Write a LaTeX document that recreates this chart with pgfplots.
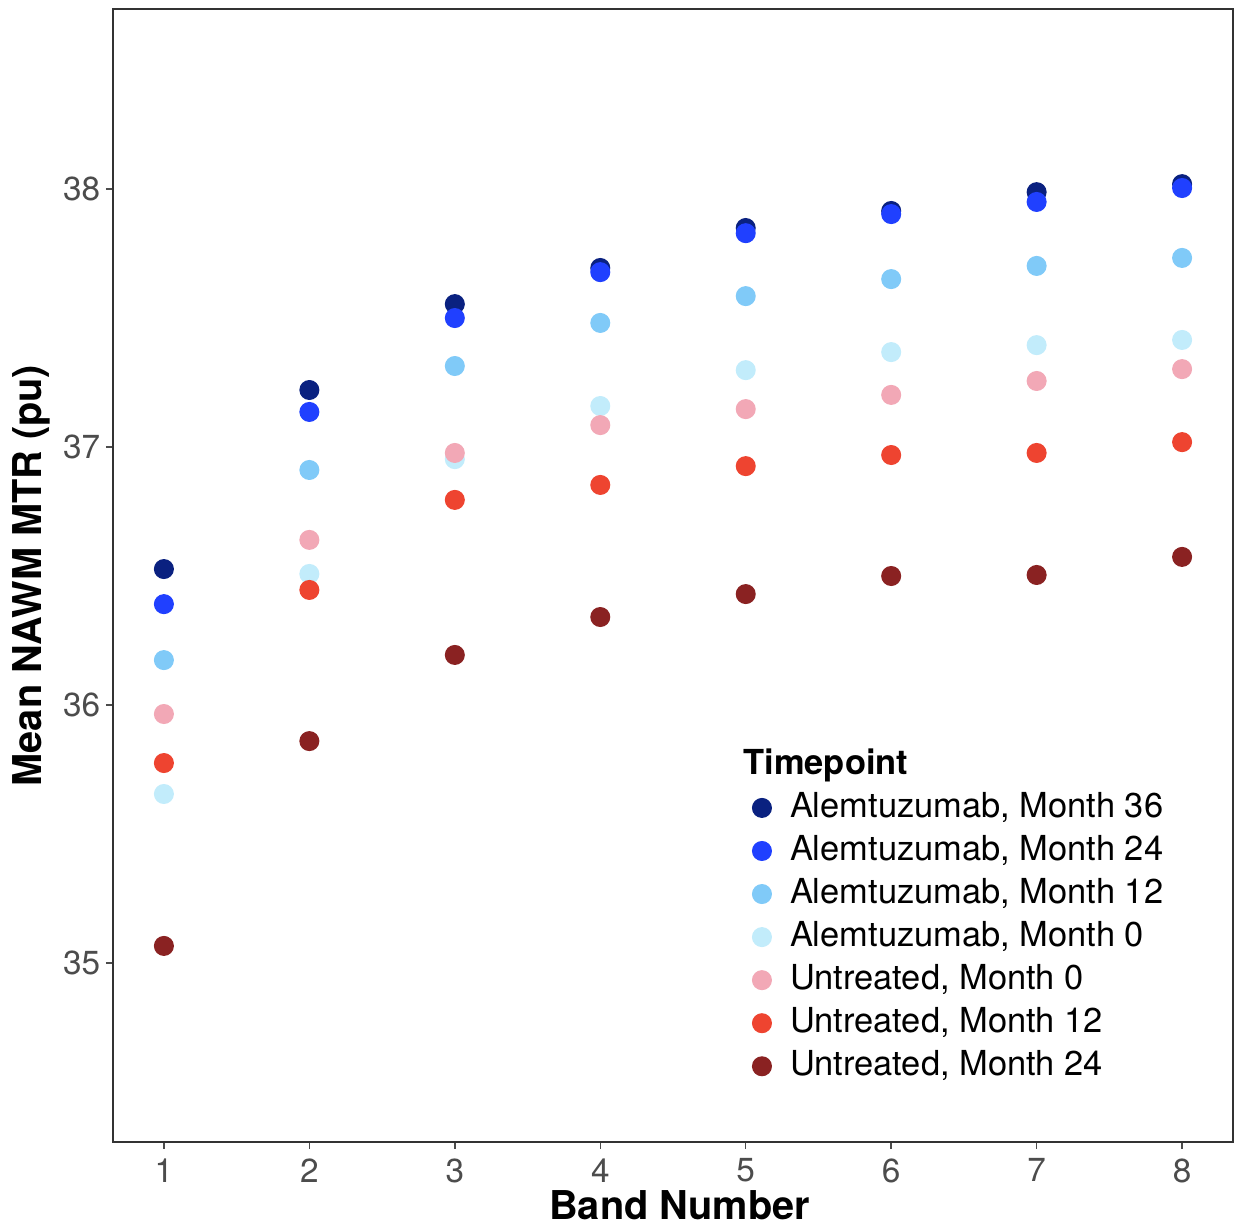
\documentclass[border=0pt]{standalone}
\usepackage{fontspec}
\setmainfont{TeX Gyre Heros}
\usepackage{pgfplots}
\pgfplotsset{compat=1.18}
\definecolor{cA36}{HTML}{0A2180}
\definecolor{cA24}{HTML}{2040FF}
\definecolor{cA12}{HTML}{80CAF8}
\definecolor{cA0}{HTML}{C2ECFB}
\definecolor{cU0}{HTML}{F2A8B6}
\definecolor{cU12}{HTML}{EE4430}
\definecolor{cU24}{HTML}{8A2222}
\pgfplotsset{dot/.style={only marks, mark=*, mark size=3.4pt, color=#1, mark options={draw=#1, fill=#1}}}
\begin{document}
\begin{tikzpicture}
\begin{axis}[
  scale only axis, width=403.2pt, height=407.88pt,
  xmin=0.65, xmax=8.35, ymin=34.306, ymax=38.698,
  xtick={1,2,3,4,5,6,7,8}, ytick={35,36,37,38},
  tick pos=left,
  tick align=outside, major tick length=2.52pt,
  tick style={color=black!70, line width=0.55pt},
  axis line style={color=black!80, line width=0.55pt},
  ticklabel style={font=\fontsize{12}{14}\selectfont, color=black!70},
  yticklabel style={xshift=1.4pt},
  /pgf/number format/assume math mode=true,
  xlabel={Band Number}, ylabel={Mean NAWM MTR (pu)},
  xlabel style={font=\fontsize{14.3}{16}\selectfont\bfseries, at={(axis description cs:0.506,-0.0688)}, anchor=base},
  ylabel style={font=\fontsize{14.3}{16}\selectfont\bfseries, at={(axis description cs:-0.0634,0.5)}, anchor=base},
  legend style={at={(axis description cs:0.5705,0.3125)}, anchor=north west, draw=none, fill=none, inner sep=0pt, row sep=1.5pt, font=\fontsize{12.4}{15}\selectfont, nodes={inner sep=0.5pt, text height=10pt, text depth=3pt}, /tikz/every odd column/.append style={column sep=6.2pt}},
  legend cell align=left,
]
\addplot[dot=cA36] coordinates {(1,36.527) (2,37.221) (3,37.554) (4,37.694) (5,37.849) (6,37.915) (7,37.988) (8,38.019)};
\addlegendentry{Alemtuzumab, Month 36}
\addplot[dot=cA24] coordinates {(1,36.391) (2,37.136) (3,37.500) (4,37.678) (5,37.829) (6,37.903) (7,37.950) (8,38.004)};
\addlegendentry{Alemtuzumab, Month 24}
\addplot[dot=cA12] coordinates {(1,36.174) (2,36.911) (3,37.314) (4,37.481) (5,37.585) (6,37.651) (7,37.702) (8,37.733)};
\addlegendentry{Alemtuzumab, Month 12}
\addplot[dot=cA0] coordinates {(1,35.655) (2,36.508) (3,36.953) (4,37.159) (5,37.298) (6,37.368) (7,37.395) (8,37.415)};
\addlegendentry{Alemtuzumab, Month 0}
\addplot[dot=cU0] coordinates {(1,35.965) (2,36.640) (3,36.977) (4,37.085) (5,37.147) (6,37.202) (7,37.256) (8,37.302)};
\addlegendentry{Untreated, Month 0}
\addplot[dot=cU12] coordinates {(1,35.775) (2,36.446) (3,36.795) (4,36.853) (5,36.926) (6,36.969) (7,36.977) (8,37.019)};
\addlegendentry{Untreated, Month 12}
\addplot[dot=cU24] coordinates {(1,35.066) (2,35.860) (3,36.194) (4,36.341) (5,36.430) (6,36.500) (7,36.504) (8,36.574)};
\addlegendentry{Untreated, Month 24}
\node[anchor=base west, font=\fontsize{12.4}{15}\selectfont\bfseries, inner sep=0pt] at (axis description cs:0.5625,0.3240) {Timepoint};
\end{axis}
\pgfresetboundingbox
\path ([shift={(-40.68pt,-29.88pt)}]current axis.south west) rectangle ([shift={(0.36pt,3.24pt)}]current axis.north east);
\end{tikzpicture}
\end{document}
